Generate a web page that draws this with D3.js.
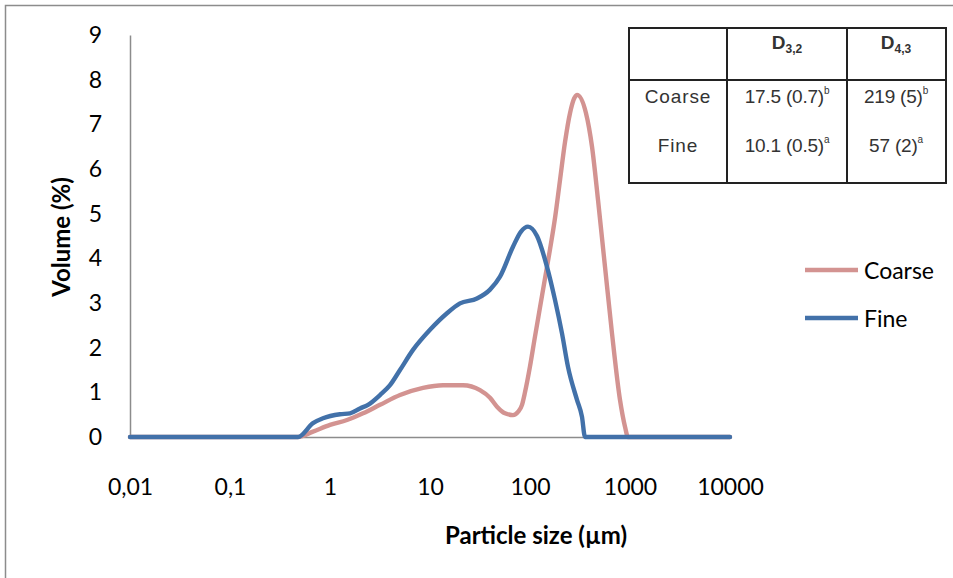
<!DOCTYPE html>
<html><head><meta charset="utf-8">
<script src="https://cdn.jsdelivr.net/npm/d3@7"></script>
<style>
html,body{margin:0;padding:0;background:#fff;}
svg{display:block;}
</style></head>
<body>
<svg id="chart" width="953" height="578"></svg>
<script>
// ---- data ----
const xTicks = [0.01, 0.1, 1, 10, 100, 1000, 10000];
const xTickLabels = ["0,01", "0,1", "1", "10", "100", "1000", "10000"];
const yTicks = [0, 1, 2, 3, 4, 5, 6, 7, 8, 9];

const coarseSize = [0.01, 0.479, 0.676, 1, 1.479, 2.138, 3.162, 5.012, 8.511, 13.49, 21.38, 31.62, 39.81, 46.77, 56.23, 67.61, 75.86, 83.2, 89.1, 100, 112.2, 125.9, 141.3, 158.5, 177.8, 199.5, 223.9, 251.2, 295.1, 363.1, 416.9, 478.6, 562.3, 660.7, 794.3, 891.3, 955, 10000];
const coarseVol  = [0, 0, 0.12, 0.27, 0.38, 0.53, 0.72, 0.94, 1.10, 1.16, 1.16, 1.05, 0.88, 0.68, 0.53, 0.49, 0.56, 0.72, 1.00, 1.58, 2.25, 2.90, 3.55, 4.20, 4.90, 5.75, 6.60, 7.25, 7.66, 7.25, 6.50, 5.31, 3.81, 2.32, 0.83, 0.23, 0, 0];

const fineSize = [0.01, 0.479, 0.676, 0.851, 1.259, 1.585, 1.995, 2.399, 3.162, 3.981, 5.012, 6.761, 10, 14.79, 19.95, 29.51, 39.81, 50.12, 67.61, 81.28, 95.5, 117.5, 147.9, 177.8, 208.9, 239.9, 295.1, 331.1, 354.8, 10000];
const fineVol  = [0, 0, 0.31, 0.42, 0.51, 0.53, 0.64, 0.72, 0.94, 1.16, 1.50, 1.95, 2.40, 2.77, 2.99, 3.10, 3.30, 3.59, 4.26, 4.60, 4.71, 4.50, 3.81, 3.07, 2.32, 1.57, 0.83, 0.45, 0, 0];

const seriesNames = ["Coarse", "Fine"];
const seriesColors = ["#d39391", "#4271a9"];

const tableHeader = ["", "D", "D"];
const tableHeaderSub = ["", "3,2", "4,3"];
const tableRowNames = ["Coarse", "Fine"];
const tableD32 = ["17.5 (0.7)", "10.1 (0.5)"];
const tableD43 = ["219 (5)", "57 (2)"];
const tableSup = ["b", "a"];

// ---- chart ----
const svg = d3.select("#chart");
const font = "Lato, 'Open Sans', sans-serif";

svg.append("rect").attr("x", 5.5).attr("y", 5.5).attr("width", 1000).attr("height", 1000)
  .attr("fill", "none").attr("stroke", "#8c8c8c").attr("stroke-width", 1.5);

const x = d3.scaleLog().domain([0.01, 10000]).range([130, 730]);
const y = d3.scaleLinear().domain([0, 9]).range([437, 35]);

// y axis
const yAxis = svg.append("g").attr("transform", "translate(130,0)")
  .call(d3.axisLeft(y).tickValues(yTicks).tickFormat(d3.format("d")).tickSize(0).tickPadding(28));
yAxis.select(".domain").attr("stroke", "#8c8c8c").attr("stroke-width", 1.5);
yAxis.selectAll("text").attr("font-family", font).attr("font-size", 23).attr("fill", "#000");

// x axis
const xAxis = svg.append("g").attr("transform", "translate(0,437)")
  .call(d3.axisBottom(x).tickValues(xTicks).tickFormat((d, i) => xTickLabels[i]).tickSize(0).tickPadding(42));
xAxis.select(".domain").attr("stroke", "#8c8c8c").attr("stroke-width", 1.5);
xAxis.selectAll("text").attr("font-family", font).attr("font-size", 23).attr("fill", "#000");

// lines
const line = d3.line().x(d => x(d[0])).y(d => y(d[1])).curve(d3.curveMonotoneX);
const coarse = coarseSize.map((s, i) => [s, coarseVol[i]]);
const fine = fineSize.map((s, i) => [s, fineVol[i]]);
[coarse, fine].forEach((data, i) => {
  svg.append("path").datum(data).attr("d", line).attr("fill", "none")
    .attr("stroke", seriesColors[i]).attr("stroke-width", 4.4)
    .attr("stroke-linejoin", "round").attr("stroke-linecap", "round");
});

// axis titles
svg.append("text").attr("transform", "translate(60,237) rotate(-90)")
  .attr("text-anchor", "middle").attr("dominant-baseline", "central")
  .attr("font-family", font).attr("font-weight", "bold").attr("font-size", 24)
  .text("Volume (%)");
svg.append("text").attr("x", 536).attr("y", 534)
  .attr("text-anchor", "middle").attr("dominant-baseline", "central")
  .attr("font-family", font).attr("font-weight", "bold").attr("font-size", 24)
  .text("Particle size (µm)");

// legend
seriesNames.forEach((n, i) => {
  const ly = 270 + i * 48;
  svg.append("line").attr("x1", 805).attr("x2", 858).attr("y1", ly).attr("y2", ly)
    .attr("stroke", seriesColors[i]).attr("stroke-width", 4.4);
  svg.append("text").attr("x", 864).attr("y", ly).attr("dominant-baseline", "central")
    .attr("font-family", font).attr("font-size", 23).text(n);
});

// table
const tf = "'Liberation Sans', Arial, sans-serif";
const tcol = "#333";
const tb = svg.append("g");
tb.append("rect").attr("x", 629).attr("y", 28).attr("width", 317).attr("height", 155)
  .attr("fill", "#fff").attr("stroke", "#222").attr("stroke-width", 2);
[727, 847].forEach(cx => tb.append("line").attr("x1", cx).attr("x2", cx).attr("y1", 28).attr("y2", 183)
  .attr("stroke", "#222").attr("stroke-width", 2));
tb.append("line").attr("x1", 629).attr("x2", 946).attr("y1", 80).attr("y2", 80)
  .attr("stroke", "#222").attr("stroke-width", 2);
const colCenters = [678, 787, 896];
[1, 2].forEach(c => {
  const t = tb.append("text").attr("x", colCenters[c]).attr("y", 49).attr("text-anchor", "middle")
    .attr("font-family", tf).attr("font-weight", "bold").attr("fill", tcol);
  t.append("tspan").attr("font-size", 19).text(tableHeader[c]);
  t.append("tspan").attr("font-size", 12).attr("dy", 4).text(tableHeaderSub[c]);
});
tableRowNames.forEach((n, r) => {
  const ry = 103 + r * 49;
  tb.append("text").attr("x", colCenters[0]).attr("y", ry).attr("text-anchor", "middle")
    .attr("font-family", tf).attr("font-size", 19).attr("letter-spacing", 0.9).attr("fill", tcol).text(n);
  [tableD32[r], tableD43[r]].forEach((v, c) => {
    const t = tb.append("text").attr("x", colCenters[c + 1]).attr("y", ry).attr("text-anchor", "middle")
      .attr("font-family", tf).attr("fill", tcol).attr("letter-spacing", -0.2);
    t.append("tspan").attr("font-size", 19).text(v);
    t.append("tspan").attr("font-size", 10).attr("dy", -9).text(tableSup[r]);
  });
});
</script>
</body></html>
